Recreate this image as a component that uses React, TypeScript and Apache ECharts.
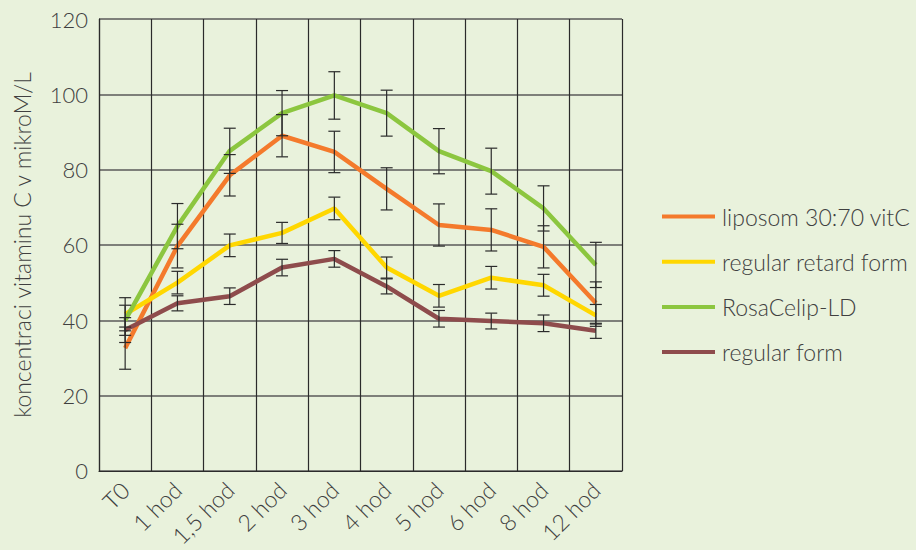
import React, { useEffect, useRef } from "react";
import * as echarts from "echarts";

const categories = ["T0", "1 hod", "1,5 hod", "2 hod", "3 hod", "4 hod", "5 hod", "6 hod", "8 hod", "12 hod"];
const yTicks = [0, 20, 40, 60, 80, 100, 120];

const seriesNames = ["liposom 30:70 vitC", "regular retard form", "RosaCelip-LD", "regular form"];

const liposom = [32.6, 59.7, 78.5, 89.0, 84.7, 74.9, 65.3, 64.0, 59.5, 44.6];
const liposomErr = [5.6, 5.8, 5.5, 5.6, 5.5, 5.6, 5.6, 5.6, 5.6, 5.6];

const retard = [41.6, 50.0, 59.9, 63.2, 69.7, 54.0, 46.5, 51.3, 49.3, 41.3];
const retardErr = [4.4, 3.0, 3.0, 2.8, 3.0, 2.8, 3.0, 3.0, 2.9, 2.9];

const rosa = [40.0, 65.0, 85.0, 95.0, 99.7, 95.0, 84.9, 79.6, 69.7, 54.7];
const rosaErr = [4.0, 6.0, 6.0, 6.0, 6.3, 6.1, 6.0, 6.1, 6.0, 6.0];

const regular = [37.4, 44.5, 46.4, 54.0, 56.3, 49.0, 40.4, 39.8, 39.2, 37.2];
const regularErr = [3.3, 2.0, 2.2, 2.2, 2.2, 2.0, 2.2, 2.1, 2.2, 2.0];

const colors = ["#f47a2c", "#ffd700", "#8cc63f", "#8e4c4c"];
const values = [liposom, retard, rosa, regular];
const errors = [liposomErr, retardErr, rosaErr, regularErr];

const FONT = "Lato, 'Open Sans', sans-serif";
const TEXT_COLOR = "#404040";

export default function App() {
  const ref = useRef<HTMLDivElement>(null);

  useEffect(() => {
    if (!ref.current) return;
    const chart = echarts.init(ref.current, undefined, { renderer: "svg" });

    const lineSeries = seriesNames.map((name, i) => ({
      name,
      type: "line",
      data: values[i],
      showSymbol: false,
      symbol: "none",
      lineStyle: { color: colors[i], width: 4.5 },
      itemStyle: { color: colors[i] },
      z: 2,
    }));

    const errSeries = values.map((vals, i) => ({
      name: "err-" + i,
      type: "custom",
      z: 5,
      silent: true,
      data: vals.map((v, k) => [k, v - errors[i][k], v + errors[i][k]]),
      renderItem: (params: any, api: any) => {
        const idx = api.value(0);
        const lo = api.coord([idx, api.value(1)]);
        const hi = api.coord([idx, api.value(2)]);
        const hw = 6;
        const style = { stroke: "#2b2b2b", lineWidth: 1.2 };
        return {
          type: "group",
          children: [
            { type: "line", shape: { x1: hi[0], y1: hi[1], x2: lo[0], y2: lo[1] }, style },
            { type: "line", shape: { x1: hi[0] - hw, y1: hi[1], x2: hi[0] + hw, y2: hi[1] }, style },
            { type: "line", shape: { x1: lo[0] - hw, y1: lo[1], x2: lo[0] + hw, y2: lo[1] }, style },
          ],
        };
      },
    }));

    chart.setOption({
      animation: false,
      backgroundColor: "#e9f2dc",
      textStyle: { fontFamily: FONT, fontWeight: 300 },
      grid: { left: 99, right: 294, top: 19, bottom: 78, show: false },
      legend: {
        data: seriesNames,
        orient: "vertical",
        left: 662,
        top: 204.5,
        padding: 0,
        itemWidth: 53,
        itemHeight: 4,
        itemGap: 21.2,
        icon: "rect",
        textStyle: { fontFamily: FONT, fontWeight: 300, fontSize: 23, color: TEXT_COLOR, lineHeight: 24, padding: [0, 0, 0, 2] },
      },
      xAxis: {
        type: "category",
        data: categories,
        boundaryGap: true,
        axisLine: { show: true, lineStyle: { color: "#2b2b2b", width: 1.2 } },
        axisTick: { show: false },
        splitLine: { show: true, interval: 0, lineStyle: { color: "#2b2b2b", width: 1.2 } },
        axisLabel: {
          interval: 0,
          rotate: 45,
          fontFamily: FONT,
          fontWeight: 300,
          fontSize: 23,
          color: TEXT_COLOR,
          margin: 15,
          padding: [10, 0, 0, 0],
        },
      },
      yAxis: {
        type: "value",
        min: yTicks[0],
        max: yTicks[yTicks.length - 1],
        interval: 20,
        name: "koncentraci vitaminu C v mikroM/L",
        nameLocation: "middle",
        nameGap: 66,
        nameRotate: 90,
        nameTextStyle: { fontFamily: FONT, fontWeight: 300, fontSize: 23, color: TEXT_COLOR },
        axisLine: { show: true, lineStyle: { color: "#2b2b2b", width: 1.2 } },
        axisTick: { show: false },
        splitLine: { show: true, lineStyle: { color: "#5a5a5a", width: 1.5 } },
        axisLabel: { fontFamily: FONT, fontWeight: 300, fontSize: 22, color: TEXT_COLOR, margin: 11 },
      },
      series: [...lineSeries, ...errSeries],
    });

    return () => chart.dispose();
  }, []);

  return <div ref={ref} style={{ width: 916, height: 550, position: "absolute", left: 0, top: 0 }} />;
}
